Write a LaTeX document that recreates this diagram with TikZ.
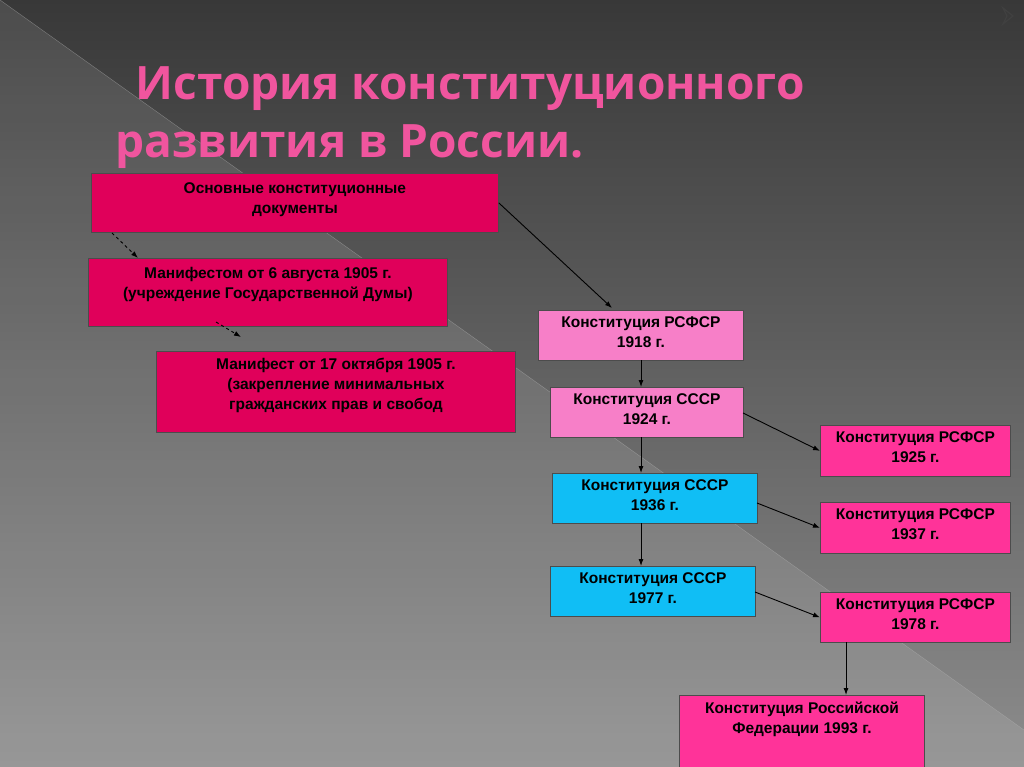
\documentclass[tikz,border=0pt]{standalone}
\usepackage{fontspec}
\setmainfont{Liberation Sans}
\newfontfamily\titlefont{Open Sans}
\usetikzlibrary{arrows.meta}
\definecolor{crim}{HTML}{E0005A}
\definecolor{lpink}{HTML}{F77FC8}
\definecolor{hpink}{HTML}{FF3399}
\definecolor{cyanb}{HTML}{10BEF5}
\definecolor{ttl}{HTML}{F0559E}
\begin{document}
\begin{tikzpicture}[x=1pt,y=-1pt,
  bx/.style={draw=black!70,line width=0.8pt,inner sep=0pt,anchor=north west},
  tx/.style={font=\bfseries\fontsize{15.5}{20}\selectfont,align=center},
  ar/.style={-{Latex[length=7pt,width=5pt]},line width=0.9pt,black},
  dar/.style={ar,dashed}]
\useasboundingbox (0,0) rectangle (1024,767);
\shade[top color=black!78,bottom color=black!45] (0,0) rectangle (1024,767);
\fill[white,opacity=0.10] (0,0) -- (1024,730) -- (1024,767) -- (0,767) -- cycle;
\draw[white!70!black,opacity=0.5] (0,0) -- (1024,730);
\draw[black!75,line width=1.2pt] (1003,8) -- (1013,16) -- (1003,24) -- (1007,16) -- cycle;
\node[ttl,anchor=base west,font=\titlefont\bfseries\fontsize{46}{52}\selectfont] (t1) at (132,100) {История конституционного};
\node[ttl,anchor=base west,font=\titlefont\bfseries\fontsize{46}{52}\selectfont] (t2) at (112,158) {развития в России.};
\node[bx,fill=crim,minimum width=407,minimum height=59] (A) at (91,173) {};
\node[tx] at (A.center) [yshift=3] {Основные конституционные\\документы};
\node[bx,fill=crim,minimum width=359,minimum height=68] (B) at (88,258) {};
\node[tx,anchor=north] at (B.north) [yshift=-6] {Манифестом от 6 августа 1905 г.\\(учреждение Государственной Думы)};
\node[bx,fill=crim,minimum width=359,minimum height=81] (C) at (156,351) {};
\node[tx,anchor=north] at (C.north) [yshift=-4] {Манифест от 17 октября 1905 г.\\(закрепление минимальных\\гражданских прав и свобод};
\newcommand\mybox[6]{\node[bx,fill=#2,minimum width=#5,minimum height=#6] (#1) at (#3,#4) {};
  \node[tx,anchor=north] at (#1.north) [yshift=-3] {\csname txt#1\endcsname};}
\def\txtD{Конституция РСФСР\\1918 г.}
\def\txtE{Конституция СССР\\1924 г.}
\def\txtF{Конституция СССР\\1936 г.}
\def\txtG{Конституция СССР\\1977 г.}
\def\txtH{Конституция РСФСР\\1925 г.}
\def\txtI{Конституция РСФСР\\1937 г.}
\def\txtJ{Конституция РСФСР\\1978 г.}
\def\txtK{Конституция Российской\\Федерации 1993 г.}
\mybox{D}{lpink}{538}{310}{205}{50}
\mybox{E}{lpink}{550}{387}{193}{50}
\mybox{F}{cyanb}{552}{473}{205}{50}
\mybox{G}{cyanb}{550}{566}{205}{50}
\mybox{H}{hpink}{820}{425}{190}{51}
\mybox{I}{hpink}{820}{502}{190}{51}
\mybox{J}{hpink}{820}{592}{190}{50}
\mybox{K}{hpink}{679}{695}{245}{74}
\draw[ar] (A.east) -- (612,308);
\draw[dar] (112,233) -- (138,258);
\draw[dar] (216,322) -- (241,337);
\draw[ar] (641,360) -- (641,387);
\draw[ar] (641,437) -- (641,473);
\draw[ar] (641,523) -- (641,566);
\draw[ar] (743,413) -- (H.west);
\draw[ar] (757,503) -- (I.west);
\draw[ar] (755,592) -- (J.west);
\draw[ar] (846,642) -- (846,695);
\end{tikzpicture}
\end{document}
